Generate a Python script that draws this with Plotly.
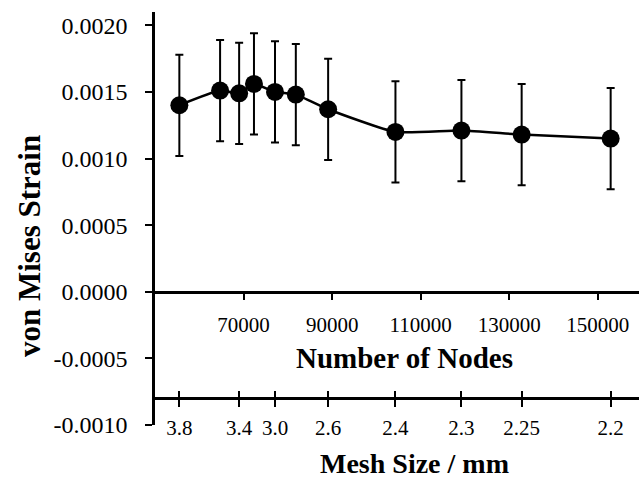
import plotly.graph_objects as go

# Data
nodes = [55500, 64700, 69000, 72350, 77100, 81800, 89100, 104300, 119200, 132800, 152900]
strain = [0.00140, 0.00151, 0.00149, 0.00156, 0.00150, 0.00148, 0.00137, 0.00120, 0.00121, 0.00118, 0.00115]
strain_err = [0.00038, 0.00038, 0.00038, 0.00038, 0.00038, 0.00038, 0.00038, 0.00038, 0.00038, 0.00038, 0.00038]

node_ticks = [70000, 90000, 110000, 130000, 150000]
node_tick_labels = ["70000", "90000", "110000", "130000", "150000"]

mesh_tick_nodes = [55500, 69000, 77100, 89100, 104300, 119200, 132800, 152900]
mesh_tick_labels = ["3.8", "3.4", "3.0", "2.6", "2.4", "2.3", "2.25", "2.2"]

y_ticks = [-0.0010, -0.0005, 0.0, 0.0005, 0.0010, 0.0015, 0.0020]
y_tick_labels = ["-0.0010", "-0.0005", "0.0000", "0.0005", "0.0010", "0.0015", "0.0020"]

FONT = "Liberation Serif"
X_RANGE = [50000, 159300]
Y_RANGE = [-0.0010, 0.0021]

W, H = 639, 479
L, R, T, B = 155, 0, 12, 54
PW, PH = W - L - R, H - T - B


def px_x(px):
    return (px - L) / PW


def px_y(py):
    return (H - B - py) / PH


fig = go.Figure()
fig.add_trace(go.Scatter(
    x=nodes, y=strain,
    mode="lines+markers",
    line=dict(color="black", width=2.5, shape="spline", smoothing=0.5),
    marker=dict(color="black", size=18),
    error_y=dict(type="data", array=strain_err, visible=True,
                 color="black", thickness=2, width=4),
    showlegend=False,
))

# invisible helpers to activate extra x axes
fig.add_trace(go.Scatter(x=[X_RANGE[0]], y=[0], xaxis="x2", mode="markers",
                         marker=dict(opacity=0), showlegend=False, hoverinfo="skip"))
fig.add_trace(go.Scatter(x=[X_RANGE[0]], y=[0], xaxis="x3", mode="markers",
                         marker=dict(opacity=0), showlegend=False, hoverinfo="skip"))

y0_pos = (0 - Y_RANGE[0]) / (Y_RANGE[1] - Y_RANGE[0])
mesh_pos = (-0.0008 - Y_RANGE[0]) / (Y_RANGE[1] - Y_RANGE[0])

fig.update_layout(
    width=W, height=H,
    margin=dict(l=L, r=R, t=T, b=B),
    plot_bgcolor="white", paper_bgcolor="white",
    font=dict(family=FONT, color="black"),
    yaxis=dict(
        range=Y_RANGE, tickvals=y_ticks, ticktext=y_tick_labels,
        ticks="outside", ticklen=7, tickwidth=2, tickcolor="black",
        showline=True, linewidth=2.5, linecolor="black",
        showgrid=False, zeroline=False, automargin=False,
        tickfont=dict(family=FONT, size=24),
        ticklabelstandoff=13,
    ),
    xaxis=dict(
        range=X_RANGE, anchor="free", position=y0_pos,
        tickvals=node_ticks, ticktext=node_tick_labels,
        ticks="outside", ticklen=6, tickwidth=2, tickcolor="black",
        showline=True, linewidth=2.5, linecolor="black",
        showgrid=False, zeroline=False, automargin=False,
        tickfont=dict(family=FONT, size=21),
        ticklabelstandoff=7,
    ),
    xaxis2=dict(
        range=X_RANGE, overlaying="x", anchor="free", position=mesh_pos,
        tickvals=mesh_tick_nodes, ticktext=mesh_tick_labels,
        ticks="outside", ticklen=7, tickwidth=2, tickcolor="black",
        showline=True, linewidth=2.5, linecolor="black",
        showgrid=False, zeroline=False, automargin=False,
        tickfont=dict(family=FONT, size=21),
        ticklabelstandoff=3,
    ),
    xaxis3=dict(
        range=X_RANGE, overlaying="x", anchor="free", position=mesh_pos,
        tickvals=mesh_tick_nodes, ticktext=[""] * len(mesh_tick_nodes),
        ticks="inside", ticklen=7, tickwidth=2, tickcolor="black",
        showline=False, showgrid=False, zeroline=False, showticklabels=False,
        automargin=False,
    ),
    annotations=[
        dict(text="<b>von Mises Strain</b>", xref="paper", yref="paper",
             x=px_x(30), y=px_y(246), textangle=-90, showarrow=False,
             xanchor="center", yanchor="middle", font=dict(family=FONT, size=31)),
        dict(text="<b>Number of Nodes</b>", xref="paper", yref="paper",
             x=px_x(404), y=px_y(358), showarrow=False,
             xanchor="center", yanchor="middle", font=dict(family=FONT, size=29)),
        dict(text="<b>Mesh Size / mm</b>", xref="paper", yref="paper",
             x=px_x(414), y=px_y(463), showarrow=False,
             xanchor="center", yanchor="middle", font=dict(family=FONT, size=28)),
    ],
)

fig.write_html(
    "out.html",
    config={"displayModeBar": False},
    post_script="document.body.style.margin='0';document.body.style.overflow='hidden';",
)
